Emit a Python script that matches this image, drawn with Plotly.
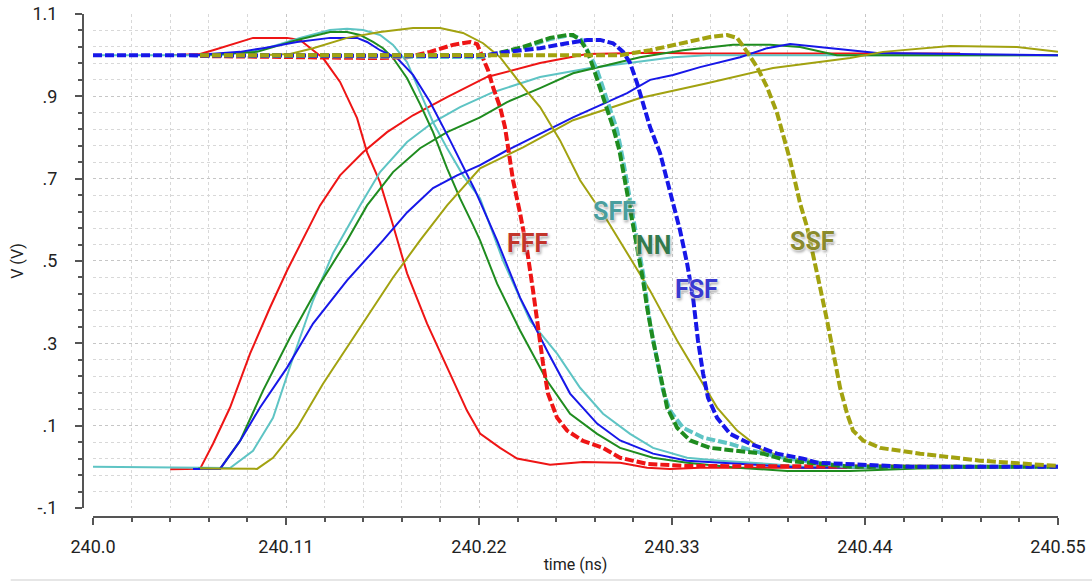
import plotly.graph_objects as go

# ---------------- data (time in ns, voltage in V) ----------------
# FFF (red)
fff_rise_t = [240.044, 240.061, 240.0684, 240.0781, 240.0895, 240.1009, 240.1106, 240.1191, 240.1294, 240.1408, 240.1539, 240.1676, 240.1824, 240.2018, 240.2246, 240.2548, 240.2816, 240.3175, 240.346, 240.4942]
fff_rise_v = [-0.006, -0.005, 0.056, 0.144, 0.275, 0.387, 0.477, 0.550, 0.635, 0.708, 0.764, 0.813, 0.854, 0.898, 0.947, 0.981, 1.003, 1.006, 1.004, 1.004]
fff_fall_t = [240.044, 240.061, 240.0684, 240.0781, 240.0912, 240.1106, 240.118, 240.1254, 240.1311, 240.1408, 240.1505, 240.1562, 240.1636, 240.171, 240.179, 240.1904, 240.2018, 240.2132, 240.2206, 240.232, 240.2417, 240.2605, 240.2793, 240.3004, 240.3158, 240.3289, 240.346, 240.4087, 240.4942]
fff_fall_v = [1.0, 1.003, 1.012, 1.025, 1.042, 1.042, 1.037, 1.012, 0.993, 0.935, 0.847, 0.764, 0.691, 0.587, 0.470, 0.348, 0.241, 0.136, 0.081, 0.046, 0.020, 0.005, 0.012, 0.010, -0.002, -0.005, -0.002, -0.002, -0.002]
fff_dash_t = [240.061, 240.1066, 240.1596, 240.179, 240.1921, 240.2052, 240.2149, 240.2189, 240.2223, 240.2251, 240.228, 240.232, 240.2348, 240.2394, 240.2434, 240.2474, 240.2508, 240.2536, 240.2565, 240.2593, 240.2645, 240.2702, 240.2793, 240.2907, 240.3004, 240.3158, 240.3386, 240.4942]
fff_dash_v = [0.998, 0.995, 0.993, 0.995, 1.008, 1.025, 1.032, 1.027, 0.995, 0.964, 0.922, 0.874, 0.825, 0.696, 0.616, 0.526, 0.428, 0.338, 0.251, 0.178, 0.119, 0.088, 0.063, 0.046, 0.022, 0.007, 0.002, 0.0]

# SFF (cyan)
sff_rise_t = [240.0, 240.0781, 240.0912, 240.1026, 240.114, 240.1254, 240.1368, 240.1522, 240.1636, 240.179, 240.1938, 240.2092, 240.228, 240.2548, 240.2833, 240.3306, 240.35, 240.55]
sff_rise_v = [0.0, -0.003, 0.039, 0.119, 0.265, 0.404, 0.519, 0.635, 0.716, 0.789, 0.837, 0.874, 0.910, 0.947, 0.969, 0.995, 1.0, 1.0]
sff_fall_t = [240.0, 240.0724, 240.0952, 240.118, 240.1351, 240.1448, 240.1539, 240.1636, 240.171, 240.179, 240.1864, 240.1938, 240.2018, 240.2109, 240.2206, 240.2337, 240.2491, 240.2645, 240.2776, 240.2907, 240.3061, 240.3192, 240.3386, 240.3574, 240.3859, 240.4047, 240.55]
sff_fall_v = [1.0, 1.0, 1.012, 1.042, 1.061, 1.064, 1.061, 1.049, 1.025, 0.983, 0.910, 0.837, 0.774, 0.708, 0.652, 0.501, 0.355, 0.275, 0.192, 0.129, 0.080, 0.046, 0.022, 0.015, 0.007, 0.0, 0.0]
sff_dash_t = [240.061, 240.2206, 240.2451, 240.2605, 240.2719, 240.2776, 240.2833, 240.2873, 240.293, 240.2987, 240.3021, 240.3061, 240.3101, 240.3135, 240.3175, 240.3215, 240.3249, 240.3289, 240.3363, 240.3477, 240.3631, 240.3762, 240.3956, 240.4315, 240.55]
sff_dash_v = [1.0, 0.995, 1.017, 1.039, 1.049, 1.042, 1.0, 0.964, 0.891, 0.818, 0.745, 0.647, 0.550, 0.470, 0.348, 0.265, 0.185, 0.136, 0.095, 0.071, 0.056, 0.039, 0.020, 0.0, 0.0]

# NN (green)
nn_rise_t = [240.06, 240.0724, 240.0838, 240.0969, 240.1123, 240.1294, 240.1448, 240.1562, 240.171, 240.1864, 240.2018, 240.2206, 240.236, 240.2548, 240.2736, 240.293, 240.3118, 240.3363, 240.3648, 240.3859, 240.403, 240.424, 240.55]
nn_rise_v = [-0.004, -0.005, 0.063, 0.185, 0.314, 0.445, 0.550, 0.635, 0.716, 0.774, 0.813, 0.849, 0.886, 0.920, 0.956, 0.976, 0.995, 1.012, 1.025, 1.025, 1.020, 1.0, 1.0]
nn_fall_t = [240.06, 240.0935, 240.1163, 240.1351, 240.1448, 240.1522, 240.1596, 240.1653, 240.171, 240.179, 240.1864, 240.1938, 240.2018, 240.2092, 240.2166, 240.2206, 240.2303, 240.2434, 240.2588, 240.2719, 240.2873, 240.3004, 240.3192, 240.3386, 240.3671, 240.3956, 240.4315, 240.47, 240.55]
nn_fall_v = [1.0, 1.008, 1.037, 1.056, 1.056, 1.049, 1.032, 1.017, 0.993, 0.944, 0.881, 0.813, 0.725, 0.652, 0.587, 0.550, 0.445, 0.331, 0.209, 0.129, 0.080, 0.046, 0.022, 0.010, -0.002, -0.01, -0.01, -0.004, 0.0]
nn_dash_t = [240.061, 240.2206, 240.2263, 240.2451, 240.2605, 240.2702, 240.2736, 240.2776, 240.2816, 240.285, 240.289, 240.293, 240.2964, 240.3, 240.3027, 240.3061, 240.3101, 240.3135, 240.3158, 240.3192, 240.3232, 240.3272, 240.3329, 240.3403, 240.3517, 240.3671, 240.3819, 240.3956, 240.4315, 240.55]
nn_dash_v = [1.0, 0.998, 1.0, 1.02, 1.042, 1.049, 1.049, 1.037, 1.012, 0.971, 0.922, 0.874, 0.825, 0.769, 0.708, 0.623, 0.533, 0.453, 0.387, 0.307, 0.227, 0.144, 0.095, 0.064, 0.046, 0.039, 0.032, 0.015, 0.0, 0.0]

# FSF (blue)
fsf_rise_t = [240.057, 240.0724, 240.0838, 240.0952, 240.1106, 240.1254, 240.1448, 240.1653, 240.179, 240.1938, 240.2075, 240.2206, 240.236, 240.2548, 240.2736, 240.3044, 240.3175, 240.3306, 240.346, 240.3688, 240.3842, 240.3973, 240.4218, 240.4468, 240.55]
fsf_rise_v = [-0.005, -0.005, 0.063, 0.144, 0.241, 0.348, 0.453, 0.550, 0.618, 0.677, 0.708, 0.733, 0.769, 0.810, 0.849, 0.908, 0.940, 0.952, 0.971, 0.995, 1.017, 1.027, 1.017, 1.005, 1.0]
fsf_fall_t = [240.057, 240.0838, 240.0969, 240.1163, 240.1351, 240.1505, 240.1562, 240.1636, 240.1733, 240.1824, 240.1921, 240.2035, 240.2177, 240.2303, 240.2434, 240.2588, 240.2719, 240.2873, 240.3004, 240.3192, 240.3386, 240.3671, 240.4047, 240.55]
fsf_fall_v = [1.0, 1.008, 1.017, 1.032, 1.042, 1.042, 1.032, 1.012, 0.993, 0.952, 0.886, 0.793, 0.672, 0.550, 0.411, 0.282, 0.178, 0.105, 0.064, 0.032, 0.015, 0.007, -0.002, 0.0]
fsf_dash_t = [240.0, 240.2206, 240.236, 240.2548, 240.2702, 240.2816, 240.289, 240.2964, 240.3021, 240.3061, 240.3101, 240.3135, 240.3175, 240.3232, 240.3272, 240.3306, 240.3346, 240.3386, 240.342, 240.3448, 240.3477, 240.3505, 240.3557, 240.3631, 240.3745, 240.3899, 240.4047, 240.4127, 240.4657, 240.55]
fsf_dash_v = [1.0, 0.998, 1.008, 1.017, 1.029, 1.037, 1.037, 1.029, 1.008, 0.981, 0.932, 0.883, 0.825, 0.762, 0.696, 0.647, 0.574, 0.494, 0.411, 0.307, 0.227, 0.168, 0.119, 0.080, 0.056, 0.032, 0.020, 0.010, 0.0, 0.0]

# SSF (olive)
ssf_rise_t = [240.061, 240.0935, 240.1026, 240.1163, 240.1311, 240.1448, 240.1562, 240.171, 240.1864, 240.2018, 240.2206, 240.2451, 240.2736, 240.3118, 240.35, 240.3876, 240.4315, 240.4503, 240.4885, 240.5266, 240.55]
ssf_rise_v = [-0.004, -0.005, 0.022, 0.095, 0.202, 0.290, 0.363, 0.460, 0.550, 0.635, 0.725, 0.776, 0.842, 0.896, 0.932, 0.969, 0.993, 1.008, 1.022, 1.020, 1.008]
ssf_fall_t = [240.0952, 240.1123, 240.1254, 240.1448, 240.1636, 240.1824, 240.1978, 240.2109, 240.2223, 240.232, 240.2434, 240.2548, 240.2662, 240.2776, 240.293, 240.3061, 240.3175, 240.3329, 240.3443, 240.3557, 240.3671, 240.3819, 240.3956, 240.4087, 240.4315, 240.55]
ssf_fall_v = [1.0, 1.003, 1.017, 1.042, 1.056, 1.066, 1.066, 1.054, 1.029, 0.995, 0.932, 0.874, 0.793, 0.696, 0.599, 0.509, 0.428, 0.307, 0.227, 0.144, 0.088, 0.039, 0.022, 0.015, 0.0, 0.0]
ssf_dash_t = [240.061, 240.3004, 240.3175, 240.3363, 240.3517, 240.3614, 240.3671, 240.3728, 240.3785, 240.3842, 240.3899, 240.3973, 240.403, 240.407, 240.4104, 240.4144, 240.4184, 240.4218, 240.4258, 240.4298, 240.4332, 240.4389, 240.4486, 240.4714, 240.5056, 240.55]
ssf_dash_v = [1.0, 1.0, 1.012, 1.029, 1.044, 1.049, 1.042, 1.008, 0.971, 0.922, 0.859, 0.745, 0.640, 0.582, 0.518, 0.436, 0.355, 0.275, 0.192, 0.129, 0.088, 0.064, 0.046, 0.032, 0.015, 0.002]

corner_names = ["FFF", "SFF", "NN", "FSF", "SSF"]
corner_colors = ["#ee1515", "#5ec4c4", "#1f8c1f", "#1717e8", "#a2a210"]
label_colors = ["#c2352b", "#4a9e9e", "#337a4d", "#3a3ad0", "#8a8a2c"]
label_t = [240.2479, 240.2975, 240.3192, 240.3437, 240.4098]
label_v = [0.543, 0.621, 0.538, 0.431, 0.548]

x_tickvals = [240.0, 240.11, 240.22, 240.33, 240.44, 240.55]
x_ticktext = ["240.0", "240.11", "240.22", "240.33", "240.44", "240.55"]
y_tickvals = [-0.1, 0.1, 0.3, 0.5, 0.7, 0.9, 1.1]
y_ticktext = ["-.1", ".1", ".3", ".5", ".7", ".9", "1.1"]

curves = [
    (fff_rise_t, fff_rise_v, fff_fall_t, fff_fall_v, fff_dash_t, fff_dash_v),
    (sff_rise_t, sff_rise_v, sff_fall_t, sff_fall_v, sff_dash_t, sff_dash_v),
    (nn_rise_t, nn_rise_v, nn_fall_t, nn_fall_v, nn_dash_t, nn_dash_v),
    (fsf_rise_t, fsf_rise_v, fsf_fall_t, fsf_fall_v, fsf_dash_t, fsf_dash_v),
    (ssf_rise_t, ssf_rise_v, ssf_fall_t, ssf_fall_v, ssf_dash_t, ssf_dash_v),
]

fig = go.Figure()
for name, col, c in zip(corner_names, corner_colors, curves):
    rt, rv, ft, fv, dt, dv = c
    fig.add_trace(go.Scatter(x=rt, y=rv, mode="lines", name=name + " rise",
                             line=dict(color=col, width=2), showlegend=False))
    fig.add_trace(go.Scatter(x=ft, y=fv, mode="lines", name=name + " fall",
                             line=dict(color=col, width=2), showlegend=False))
for name, col, c in zip(corner_names, corner_colors, curves):
    rt, rv, ft, fv, dt, dv = c
    fig.add_trace(go.Scatter(x=dt, y=dv, mode="lines", name=name + " out",
                             line=dict(color=col, width=4, dash="9px,3px"),
                             showlegend=False))

for name, col, lt, lv in zip(corner_names, label_colors, label_t, label_v):
    fig.add_annotation(x=lt, y=lv, text="<b>" + name + "</b>", showarrow=False,
                       font=dict(family="Roboto, Arial, sans-serif", size=25, color=col,
                                 shadow="0px 0px 2px white, 0px 0px 3px white, 1px 2px 3px rgba(0,0,0,0.45)"))

axis_col = "#555555"
grid_major = "#c6c6c6"
grid_minor = "#d8d8d8"

fig.update_layout(
    width=1092, height=584,
    margin=dict(l=70, r=34, t=14, b=60, autoexpand=False),
    paper_bgcolor="white", plot_bgcolor="white",
    font=dict(family="Roboto, Arial, sans-serif", color="#222222"),
    showlegend=False,
    xaxis=dict(
        range=[240.0, 240.55], domain=[0.0233, 1.0], anchor="free", position=0.0137,
        automargin=False, ticklabeloverflow="allow",
        tickvals=x_tickvals, ticktext=x_ticktext, tickfont=dict(size=18, color="#222222"),
        showline=True, linecolor=axis_col, linewidth=2,
        ticks="outside", ticklen=7, tickwidth=2, tickcolor=axis_col,
        ticklabelstandoff=6,
        showgrid=True, gridcolor=grid_major, griddash="dot", gridwidth=1,
        zeroline=False,
        minor=dict(tick0=240.0, dtick=0.022, ticks="outside", ticklen=4, tickwidth=2,
                   tickcolor=axis_col, showgrid=True, gridcolor=grid_minor,
                   griddash="dot", gridwidth=1),
        title=dict(text="time (ns)", font=dict(size=16, color="#222222"), standoff=2),
    ),
    yaxis=dict(
        range=[-0.1, 1.1], domain=[0.0314, 1.0], anchor="free", position=0.0132,
        automargin=False, ticklabeloverflow="allow",
        tickvals=y_tickvals, ticktext=y_ticktext, tickfont=dict(size=18, color="#222222"),
        showline=True, linecolor=axis_col, linewidth=2,
        ticks="outside", ticklen=7, tickwidth=2, tickcolor=axis_col,
        ticklabelstandoff=14,
        showgrid=True, gridcolor=grid_major, griddash="dot", gridwidth=1,
        zeroline=False,
        minor=dict(tick0=-0.1, dtick=0.04, ticks="outside", ticklen=4, tickwidth=2,
                   tickcolor=axis_col, showgrid=True, gridcolor=grid_minor,
                   griddash="dot", gridwidth=1),
        title=dict(text="V (V)", font=dict(size=16, color="#222222"), standoff=4),
    ),
)

fig.add_shape(type="line", xref="paper", yref="paper", x0=-0.06, x1=1.04, y0=-0.11, y1=-0.11,
              line=dict(color="#e6e6e6", width=2))

fig.write_html("out.html", config={"displayModeBar": False},
               post_script="document.body.style.margin='0px';")
